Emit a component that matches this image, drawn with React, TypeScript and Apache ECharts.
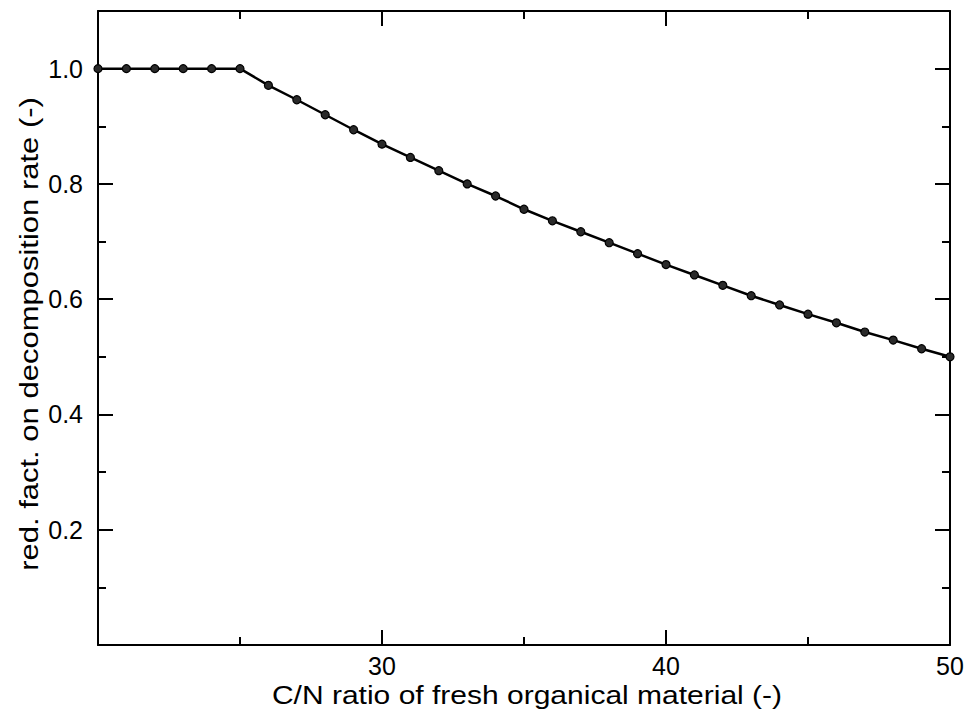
import React, { useEffect, useRef } from "react";
import * as echarts from "echarts";

const cnRatio = [20, 21, 22, 23, 24, 25, 26, 27, 28, 29, 30, 31, 32, 33, 34, 35, 36, 37, 38, 39, 40, 41, 42, 43, 44, 45, 46, 47, 48, 49, 50];
const reductionFactor = [1.0, 1.0, 1.0, 1.0, 1.0, 1.0, 0.971, 0.946, 0.92, 0.894, 0.869, 0.846, 0.823, 0.8, 0.779, 0.756, 0.736, 0.717, 0.698, 0.679, 0.66, 0.642, 0.624, 0.606, 0.59, 0.574, 0.559, 0.543, 0.529, 0.514, 0.5];

const xTitle = "C/N ratio of fresh organical material (-)";
const yTitle = "red. fact. on decomposition rate (-)";

const FONT = '"Liberation Sans", Arial, Helvetica, sans-serif';

export default function App() {
  const ref = useRef<HTMLDivElement>(null);
  useEffect(() => {
    if (!ref.current) return;
    const chart = echarts.init(ref.current, undefined, { renderer: "svg" });
    const black = "#000";
    const baseX = {
      type: "value" as const,
      min: 20,
      max: 50,
      interval: 10,
      splitLine: { show: false },
      axisLine: { show: true, onZero: false, lineStyle: { color: black, width: 2 } },
      axisTick: { show: true, inside: true, length: 15, lineStyle: { color: black, width: 2 } },
      minorTick: { show: true, splitNumber: 2, length: 8, lineStyle: { color: black, width: 2 } },
    };
    const baseYMajor = {
      type: "value" as const,
      min: 0,
      max: 1.1,
      interval: 0.2,
      splitLine: { show: false },
      axisLine: { show: true, onZero: false, lineStyle: { color: black, width: 2 } },
      axisTick: { show: true, inside: true, length: 15, lineStyle: { color: black, width: 2 } },
    };
    const baseYMinor = {
      type: "value" as const,
      min: 0,
      max: 1.1,
      interval: 0.1,
      splitLine: { show: false },
      axisLine: { show: false },
      axisLabel: { show: false },
      axisTick: { show: true, inside: true, length: 8, lineStyle: { color: black, width: 2 } },
    };
    chart.setOption({
      animation: false,
      backgroundColor: "#fff",
      grid: { left: 98, right: 24, top: 11, bottom: 77, containLabel: false },
      xAxis: [
        {
          ...baseX,
          position: "bottom",
          axisLabel: {
            show: true,
            color: black,
            fontSize: 25,
            fontFamily: FONT,
            margin: 8,
            formatter: (v: number) => (v === 20 ? "" : String(v)),
          },
        },
        { ...baseX, position: "top", axisLabel: { show: false } },
      ],
      yAxis: [
        {
          ...baseYMajor,
          position: "left",
          axisLabel: {
            show: true,
            color: black,
            fontSize: 25,
            fontFamily: FONT,
            margin: 15,
            showMinLabel: false,
            showMaxLabel: false,
            formatter: (v: number) => (v === 0 || v > 1.05 ? "" : v.toFixed(1)),
          },
        },
        { ...baseYMajor, position: "right", axisLabel: { show: false } },
        { ...baseYMinor, position: "left" },
        { ...baseYMinor, position: "right" },
      ],
      graphic: [
        {
          type: "text",
          x: 527,
          y: 695,
          scaleX: 1.2,
          style: {
            text: xTitle,
            fontSize: 25,
            fontFamily: FONT,
            fill: black,
            align: "center",
            verticalAlign: "middle",
            textAlign: "center",
            textVerticalAlign: "middle",
          },
        },
        {
          type: "text",
          x: 29.5,
          y: 334,
          rotation: Math.PI / 2,
          scaleX: 1.24,
          style: {
            text: yTitle,
            fontSize: 25,
            fontFamily: FONT,
            fill: black,
            align: "center",
            verticalAlign: "middle",
            textAlign: "center",
            textVerticalAlign: "middle",
          },
        },
      ],
      series: [
        {
          type: "line",
          xAxisIndex: 0,
          yAxisIndex: 0,
          data: cnRatio.map((x, i) => [x, reductionFactor[i]]),
          symbol: "circle",
          symbolSize: 8,
          showSymbol: true,
          clip: false,
          lineStyle: { color: black, width: 2.5 },
          itemStyle: { color: "#2a2a2a", borderColor: black, borderWidth: 1.2 },
        },
      ],
    });
    return () => chart.dispose();
  }, []);
  return (
    <div
      ref={ref}
      style={{ position: "absolute", left: 0, top: 0, width: 974, height: 722, background: "#fff" }}
    />
  );
}
